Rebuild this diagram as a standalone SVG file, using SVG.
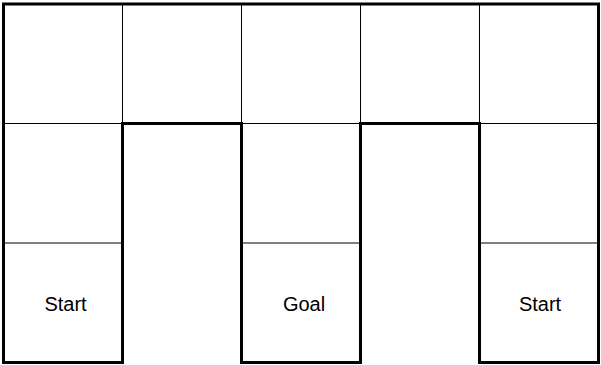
<svg xmlns="http://www.w3.org/2000/svg" width="601" height="365" viewBox="0 0 601 365">
<style>
.thin{fill:none;stroke:#000;stroke-width:1}
.wall{fill:none;stroke:#000;stroke-width:3;stroke-linejoin:miter;stroke-linecap:square}
.lbl{font-family:"Liberation Sans",Arial,sans-serif;font-size:20px;fill:#000;text-anchor:middle}
</style>
<rect width="601" height="365" fill="#fff"/>
<g id="grid">
<path class="thin" d="M122.5,4V123.5M241.5,4V123.5M360.5,4V123.5M479.5,4V123.5"/>
<path class="thin" d="M3.5,123.5H122.5M241.5,123.5H360.5M479.5,123.5H598.5"/>
<path class="thin" d="M3.5,243H122.5M241.5,243H360.5M479.5,243H598.5"/>
</g>
<g id="walls">
<path class="wall" d="M3.5,362.5V4H598.5V362.5H479.5V123.5H360.5V362.5H241.5V123.5H122.5V362.5Z"/>
</g>
<g id="start-left"><text class="lbl" x="65.5" y="311">Start</text></g>
<g id="goal"><text class="lbl" x="304" y="311">Goal</text></g>
<g id="start-right"><text class="lbl" x="540" y="311">Start</text></g>
</svg>
